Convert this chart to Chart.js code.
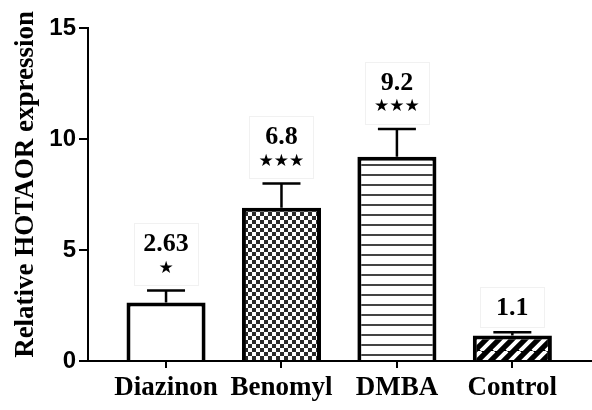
<!DOCTYPE html>
<html>
<head>
<meta charset="utf-8">
<script src="https://cdn.jsdelivr.net/npm/chart.js@4.4.0/dist/chart.umd.min.js"></script>
<style>
  html, body { margin: 0; padding: 0; background: #fff; }
</style>
</head>
<body>
<canvas id="chart" width="592" height="410"></canvas>
<script>
// Data
const categories = ['Diazinon', 'Benomyl', 'DMBA', 'Control'];
const means = [2.63, 6.9, 9.2, 1.15];
const errors = [0.55, 1.1, 1.25, 0.15];
const valueLabels = ['2.63', '6.8', '9.2', '1.1'];
const stars = ['★', '★★★', '★★★', ''];
const yTicks = [0, 5, 10, 15];

// Fill patterns
function makePattern(size, draw) {
    const c = document.createElement('canvas');
    c.width = size; c.height = size;
    const g = c.getContext('2d');
    g.fillStyle = '#fff';
    g.fillRect(0, 0, size, size);
    draw(g, size);
    return c.getContext('2d').createPattern(c, 'repeat');
}

const checker = makePattern(8, (g) => {
    g.fillStyle = '#2b2b2b';
    g.fillRect(0, 0, 4, 4);
    g.fillRect(4, 4, 4, 4);
});

const hlines = makePattern(10, (g) => {
    g.fillStyle = '#444';
    g.fillRect(0, 4, 10, 2);
});

const diagonal = makePattern(13, (g, s) => {
    g.fillStyle = '#000';
    g.fillRect(0, 0, s, s);
    g.strokeStyle = '#fff';
    g.lineWidth = 4;
    g.beginPath();
    for (const k of [-1, 0, 1]) {
        g.moveTo(k * s, s);
        g.lineTo(k * s + s, 0);
    }
    g.stroke();
});

const fills = ['#fff', checker, hlines, diagonal];

// Error bars + value/star annotations
const errorBarPlugin = {
    id: 'errorBars',
    afterDatasetsDraw(chart) {
        const ctx = chart.ctx;
        const yScale = chart.scales.y;
        const meta = chart.getDatasetMeta(0);
        ctx.save();
        meta.data.forEach((bar, i) => {
            const top = yScale.getPixelForValue(means[i] + errors[i]);
            ctx.strokeStyle = '#000';
            ctx.lineWidth = 2.5;
            ctx.beginPath();
            ctx.moveTo(bar.x, bar.y);
            ctx.lineTo(bar.x, top);
            ctx.moveTo(bar.x - 19, top);
            ctx.lineTo(bar.x + 19, top);
            ctx.stroke();

            const h = stars[i] ? 62 : 40;
            const w = 64;
            const boxBottom = top - 5;
            const boxTop = boxBottom - h;
            ctx.strokeStyle = '#f1f1f1';
            ctx.lineWidth = 1;
            ctx.strokeRect(Math.round(bar.x - w / 2) + 0.5, Math.round(boxTop) + 0.5, w, h);

            ctx.fillStyle = '#000';
            ctx.textAlign = 'center';
            ctx.textBaseline = 'middle';
            ctx.font = 'bold 26px "Liberation Serif"';
            ctx.fillText(valueLabels[i], bar.x, boxTop + 21);
            if (stars[i]) {
                ctx.font = '17px "DejaVu Sans"';
                ctx.fillText(stars[i], bar.x, boxTop + 45);
            }
        });
        ctx.restore();
    }
};

new Chart(document.getElementById('chart'), {
    type: 'bar',
    data: {
        datasets: [{
            data: means.map((v, i) => ({ x: i, y: v })),
            backgroundColor: fills,
            borderColor: '#000',
            borderWidth: 4,
            barPercentage: 0.685,
            categoryPercentage: 1
        }]
    },
    options: {
        responsive: false,
        animation: false,
        layout: { padding: { top: 28, right: 0, bottom: 0, left: 0 } },
        plugins: {
            legend: { display: false },
            tooltip: { enabled: false }
        },
        scales: {
            x: {
                type: 'linear',
                offset: false,
                min: -0.676,
                max: 3.69,
                afterBuildTicks: (s) => { s.ticks = categories.map((c, i) => ({ value: i })); },
                afterFit: (s) => { s.height = 49; },
                grid: { offset: false, drawOnChartArea: false, color: '#000', lineWidth: 2, tickLength: 7 },
                border: { color: '#000', width: 2 },
                ticks: {
                    callback: (v) => categories[v],
                    color: '#000',
                    font: { family: 'Liberation Serif', weight: 'bold', size: 27 },
                    padding: 4,
                    maxRotation: 0,
                    autoSkip: false
                }
            },
            y: {
                min: 0,
                max: 15,
                afterBuildTicks: (s) => { s.ticks = yTicks.map(v => ({ value: v })); },
                afterFit: (s) => { s.width = 88; },
                grid: { drawOnChartArea: false, color: '#000', lineWidth: 2, tickLength: 9 },
                border: { color: '#000', width: 2 },
                ticks: {
                    color: '#000',
                    font: { family: 'Liberation Sans', weight: 'bold', size: 24 },
                    padding: 3
                },
                title: {
                    display: true,
                    // leading spaces nudge the rotated title up a little
                    text: '\u00A0\u00A0\u00A0Relative HOTAOR expression',
                    color: '#000',
                    font: { family: 'Liberation Serif', weight: 'bold', size: 27 },
                    padding: { top: 10, bottom: 0 }
                }
            }
        }
    },
    plugins: [errorBarPlugin]
});
</script>
</body>
</html>
